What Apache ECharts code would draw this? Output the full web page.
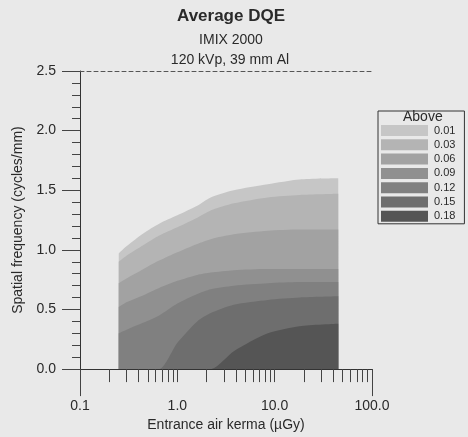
<!DOCTYPE html>
<html>
<head>
<meta charset="utf-8">
<title>Average DQE</title>
<script src="https://cdn.jsdelivr.net/npm/echarts@6/dist/echarts.min.js"></script>
<style>
  html, body { margin: 0; padding: 0; background: #e9e9e9; }
  #chart { width: 468px; height: 437px; }
</style>
</head>
<body>
<div id="chart"></div>
<script>
// entrance air kerma columns (uGy) where the contour boundaries were read
const kerma = [0.25, 0.3, 0.45, 0.65, 1, 1.6, 2.2, 3.8, 8.5, 18, 45];

// contour levels (DQE "above" value) and the spatial frequency (cycles/mm)
// up to which the DQE stays above each level, one value per kerma column
const levels = ['0.01', '0.03', '0.06', '0.09', '0.12', '0.15', '0.18'];
const above001 = [0.97, 1.03, 1.14, 1.22, 1.29, 1.37, 1.44, 1.50, 1.55, 1.59, 1.60];
const above003 = [0.90, 0.95, 1.04, 1.12, 1.19, 1.27, 1.33, 1.39, 1.44, 1.46, 1.47];
const above006 = [0.72, 0.76, 0.84, 0.91, 0.98, 1.05, 1.09, 1.13, 1.16, 1.17, 1.17];
const above009 = [0.52, 0.56, 0.62, 0.68, 0.74, 0.79, 0.81, 0.83, 0.84, 0.84, 0.84];
const above012 = [0.30, 0.33, 0.39, 0.45, 0.55, 0.63, 0.67, 0.70, 0.72, 0.73, 0.73];
const above015 = [0.00, 0.00, 0.00, 0.00, 0.22, 0.40, 0.47, 0.54, 0.58, 0.60, 0.61];
const above018 = [0.00, 0.00, 0.00, 0.00, 0.00, 0.00, 0.00, 0.15, 0.30, 0.36, 0.38];

// axis ticks
const xLabelTicks = [0.1, 1, 10, 100];
const xAllTicks = [
    0.1, 0.2, 0.3, 0.4, 0.5, 0.6, 0.7, 0.8, 0.9,
    1, 2, 3, 4, 5, 6, 7, 8, 9,
    10, 20, 30, 40, 50, 60, 70, 80, 90, 100
];
const xEndTicks = [0.1, 100];

const bandColors = ['#c6c6c6', '#b4b4b4', '#a2a2a2', '#909090', '#808080', '#6e6e6e', '#555555'];

const chart = echarts.init(document.getElementById('chart'));

const boundaries = [above001, above003, above006, above009, above012, above015, above018];

const series = boundaries.map(function (freqs, i) {
    return {
        name: levels[i],
        type: 'line',
        xAxisIndex: 0,
        yAxisIndex: 0,
        data: kerma.map(function (k, j) { return [k, freqs[j]]; }),
        showSymbol: false,
        symbol: 'none',
        smooth: 0.25,
        lineStyle: { width: 0 },
        itemStyle: { color: bandColors[i] },
        areaStyle: { color: bandColors[i], opacity: 1 },
        z: 2 + i,
        silent: true
    };
});

const textColor = '#2a2a2a';
const fontFamily = '"Liberation Sans", Arial, sans-serif';

const options = {
    backgroundColor: '#e9e9e9',
    animation: false,
    textStyle: { fontFamily: fontFamily, color: textColor },
    title: [{
        text: 'Average DQE',
        left: 226,
        textAlign: 'center',
        top: 3,
        textStyle: { fontSize: 17, fontWeight: 'bold', color: textColor, fontFamily: fontFamily }
    }, {
        text: 'IMIX 2000',
        left: 226,
        textAlign: 'center',
        top: 28,
        textStyle: { fontSize: 14, fontWeight: 'normal', color: textColor, fontFamily: fontFamily }
    }, {
        text: '120 kVp, 39 mm Al',
        left: 225,
        textAlign: 'center',
        top: 48,
        textStyle: { fontSize: 14, fontWeight: 'normal', color: textColor, fontFamily: fontFamily }
    }],
    grid: {
        left: 80,
        top: 71,
        width: 292,
        height: 301,
        containLabel: false
    },
    legend: {
        orient: 'vertical',
        left: 378,
        top: 111,
        padding: [14, 9, 2, 3],
        borderColor: '#333',
        borderWidth: 1,
        icon: 'rect',
        itemWidth: 47,
        itemHeight: 11,
        itemGap: 3.3,
        selectedMode: false,
        itemStyle: { borderWidth: 0 },
        textStyle: { fontSize: 11, color: textColor, fontFamily: fontFamily, padding: [0, 0, 0, 1] },
        data: levels
    },
    graphic: [{
        type: 'text',
        left: 403,
        top: 110,
        style: { text: 'Above', fontSize: 14, fill: textColor, fontFamily: fontFamily }
    }],
    xAxis: [{
        type: 'log',
        logBase: 10,
        min: 0.1,
        max: 100,
        position: 'bottom',
        name: 'Entrance air kerma (\u00b5Gy)',
        nameLocation: 'middle',
        nameGap: 45,
        nameTextStyle: { fontSize: 14, color: textColor },
        axisLine: { show: true, lineStyle: { color: '#333', width: 1 } },
        axisTick: { show: true, length: 13, customValues: xAllTicks, lineStyle: { color: '#444' } },
        axisLabel: {
            customValues: xLabelTicks,
            margin: 30,
            fontSize: 14,
            color: textColor,
            formatter: function (v) { return Number(v).toFixed(1); }
        },
        splitLine: { show: false }
    }, {
        type: 'log',
        logBase: 10,
        min: 0.1,
        max: 100,
        position: 'bottom',
        axisLine: { show: false },
        axisTick: { show: true, length: 27, customValues: xEndTicks, lineStyle: { color: '#444' } },
        axisLabel: { show: false },
        splitLine: { show: false }
    }, {
        type: 'log',
        logBase: 10,
        min: 0.1,
        max: 100,
        position: 'top',
        axisLine: { show: true, lineStyle: { color: '#555', type: [4, 3], width: 1 } },
        axisTick: { show: false },
        axisLabel: { show: false },
        splitLine: { show: false }
    }],
    yAxis: {
        type: 'value',
        min: 0,
        max: 2.5,
        interval: 0.5,
        name: 'Spatial frequency (cycles/mm)',
        nameLocation: 'middle',
        nameGap: 54,
        nameTextStyle: { fontSize: 14, color: textColor },
        axisLine: { show: true, lineStyle: { color: '#333', width: 1 } },
        axisTick: { show: true, length: 18, lineStyle: { color: '#444' } },
        minorTick: { show: true, splitNumber: 5, length: 8, lineStyle: { color: '#444' } },
        axisLabel: {
            margin: 24,
            fontSize: 14,
            color: textColor,
            formatter: function (v) { return v.toFixed(1); }
        },
        splitLine: { show: false }
    },
    series: series
};

chart.setOption(options);
</script>
</body>
</html>
